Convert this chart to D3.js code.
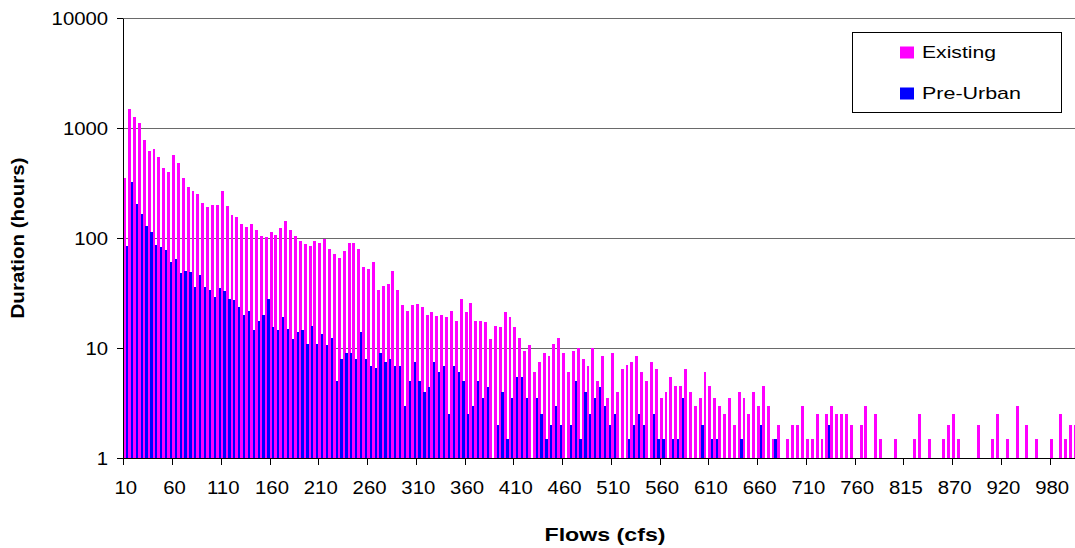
<!DOCTYPE html>
<html>
<head>
<meta charset="utf-8">
<script src="https://cdn.jsdelivr.net/npm/d3@7"></script>
<style>
  html, body { margin: 0; padding: 0; background: #fff; }
  svg { display: block; font-family: "Liberation Sans", Arial, sans-serif; }
</style>
</head>
<body>
<svg id="chart" width="1075" height="548"></svg>
<script>
// Flow bins (cfs) on the category axis
const categories = [
  10,15,20,25,30,35,40,45,50,55,
  60,65,70,75,80,85,90,95,100,105,
  110,115,120,125,130,135,140,145,150,155,
  160,165,170,175,180,185,190,195,200,205,
  210,215,220,225,230,235,240,245,250,255,
  260,265,270,275,280,285,290,295,300,305,
  310,315,320,325,330,335,340,345,350,355,
  360,365,370,375,380,385,390,395,400,405,
  410,415,420,425,430,435,440,445,450,455,
  460,465,470,475,480,485,490,495,500,505,
  510,515,520,525,530,535,540,545,550,555,
  560,565,570,575,580,585,590,595,600,605,
  610,615,620,625,630,635,640,645,650,655,
  660,665,670,675,680,685,690,695,700,705,
  710,715,720,725,730,735,740,745,750,755,
  760,765,770,775,780,785,790,795,800,805,
  815,820,825,830,835,840,845,850,855,860,
  870,875,880,885,890,895,900,905,910,915,
  920,925,930,935,940,950,955,960,970,975,
  980,985,990,995,1000,1005
];

// Duration (hours) at or above each flow, existing land use
const existing = [
  350,1500,1250,1100,780,620,650,540,430,400,
  570,480,350,290,265,250,210,190,200,200,
  265,195,163,156,135,127,135,117,105,103,
  114,107,123,143,118,104,94,88,85,94,
  90,98,79,72,66,76,90,90,79,54.5,
  52,60.5,34,36.6,38,50,33.7,24.6,21.7,24.6,
  25.1,23.6,20,21.2,19.5,20,19.1,21.7,17.6,27.9,
  21.2,25.7,17.6,17.6,17.2,12.1,15.8,15.5,21.2,19.1,
  15.5,12.3,9.4,10.7,6,7.5,9,8.5,10.9,12.3,
  9,6,9.4,10,7.9,6.9,10,5,8.5,3.5,
  9,4,6.5,7,7.5,8.5,6,5,7.5,6.5,
  3.5,4,5.5,4.5,4.5,6.5,4,3,3.5,6,
  4.5,3.5,3,2.5,3.5,2,4,3.5,2.5,4,
  3,4.5,3,1.5,2,null,1.5,2,2,3,
  1.5,1.5,2.5,1.5,2.5,3,2.5,2.5,2.5,2,
  null,2,3,null,2.5,1.5,null,null,1.5,null,
  null,null,1.5,2.5,null,1.5,null,null,1.5,2,
  2.5,1.5,null,null,null,2,null,null,1.5,2.5,
  null,1.5,null,3,null,2,null,1.5,null,null,
  1.5,null,2.5,1.5,2,2
];

// Duration (hours) at or above each flow, pre-urban land use
const preUrban = [
  85,320,205,166,129,114,87,82,78,60,
  64,48,50,49,36,46,36,34,29,35,
  33,28,27.5,23.8,20.1,21.9,14.7,17.7,20.1,28,
  15.6,14.7,19.1,14.9,12.1,14,14.6,10.9,15.8,10.9,
  13.4,10.7,12.3,5,7.9,9,9,7.9,14,7.9,
  6.9,6.6,9,7.5,7.9,6.9,6.9,3,5,7.5,
  5,4,4.4,7.5,6,6.9,2.5,6.9,6,5,
  2.5,3,5,3.5,4.4,null,2,4,1.5,3.5,
  5.5,5.5,3.5,null,3.5,2.5,1.5,2,3,2,
  null,2,5,1.5,4,2.5,3.5,4.4,3,2,
  2.5,null,null,1.5,2,2.5,2,null,2.5,1.5,
  1.5,null,1.5,1.5,3.5,null,null,null,2,null,
  1.5,1.5,null,null,null,null,1.5,null,null,null,
  2,null,null,1.5,null,null,null,null,null,null,
  null,null,null,null,2,null,null,null,null,null,
  null,null,null,null,null,null,null,null,null,null,
  null,null,null,null,null,null,null,null,null,null,
  null,null,null,null,null,null,null,null,null,null,
  null,null,null,null,null,null,null,null,null,null,
  null,null,null,null,null,null
];

const yTickValues = [1, 10, 100, 1000, 10000];
const xLabelEvery = 10;
const seriesNames = ["Existing", "Pre-Urban"];
const seriesValues = [existing, preUrban];
const seriesColors = ["#ff00ff", "#0000ff"];
// share of each category slot taken by each series' bar (start, width)
const barSlot = [[0.0, 0.6], [0.54, 0.46]];

// ---- layout ----
const W = 1075, H = 548;
const plotLeft = 123.3, plotTop = 18, plotBottom = 458, bandW = 4.876;

const svg = d3.select("#chart");
svg.append("rect").attr("width", W).attr("height", H).attr("fill", "#fff");

const idx = d3.range(categories.length);
const x = d3.scaleBand()
  .domain(idx)
  .range([plotLeft, plotLeft + bandW * categories.length])
  .paddingInner(0).paddingOuter(0);
const y = d3.scaleLog().domain([1, 10000]).range([plotBottom, plotTop]);

// horizontal gridlines
svg.append("g")
  .selectAll("line")
  .data(yTickValues.slice(1))
  .join("line")
  .attr("x1", plotLeft).attr("x2", W)
  .attr("y1", d => Math.round(y(d)) + 0.5)
  .attr("y2", d => Math.round(y(d)) + 0.5)
  .attr("stroke", "#6a6a6a").attr("stroke-width", 1);

// bars
seriesNames.forEach((name, s) => {
  const data = idx
    .map(i => ({ i, v: seriesValues[s][i] }))
    .filter(d => d.v != null && d.v > 0);
  const [off, frac] = barSlot[s];
  svg.append("g")
    .attr("shape-rendering", "crispEdges")
    .selectAll("rect")
    .data(data)
    .join("rect")
    .attr("x", d => x(d.i) + off * x.bandwidth())
    .attr("width", frac * x.bandwidth())
    .attr("y", d => y(d.v))
    .attr("height", d => y(1) - y(d.v))
    .attr("fill", seriesColors[s]);
});

// y axis
const yAxis = svg.append("g")
  .attr("transform", `translate(${Math.floor(plotLeft)},0)`)
  .call(d3.axisLeft(y).tickValues(yTickValues).tickFormat(d3.format("d"))
    .tickSize(6).tickSizeOuter(0));
yAxis.select(".domain").attr("stroke", "#000");
yAxis.selectAll(".tick line").attr("stroke", "#000");
yAxis.selectAll(".tick text")
  .attr("x", -13.5)
  .attr("dy", "0.35em")
  .attr("transform", "scale(1.1,1)")
  .attr("font-size", "18.5px")
  .attr("fill", "#000");

// x axis: labels centred on categories, ticks on category boundaries
const xTickIdx = idx.filter(i => i % xLabelEvery === 0);
const xAxis = svg.append("g")
  .attr("transform", `translate(0,${plotBottom})`)
  .call(d3.axisBottom(x).tickValues(xTickIdx).tickFormat(i => categories[i])
    .tickSize(0).tickSizeOuter(0));
xAxis.select(".domain").attr("stroke", "#000");
xAxis.selectAll(".tick text")
  .attr("y", 36).attr("dy", null)
  .attr("transform", "scale(1.1,1)")
  .attr("font-size", "18.5px")
  .attr("fill", "#000");
xAxis.append("g")
  .selectAll("line")
  .data(xTickIdx)
  .join("line")
  .attr("x1", i => Math.round(x(i)) + 0.5)
  .attr("x2", i => Math.round(x(i)) + 0.5)
  .attr("y1", 0).attr("y2", 7)
  .attr("stroke", "#000");

// axis titles
svg.append("text")
  .attr("x", 605).attr("y", 541)
  .attr("text-anchor", "middle")
  .attr("font-weight", "bold").attr("font-size", "19px")
  .attr("textLength", 121).attr("lengthAdjust", "spacingAndGlyphs")
  .text("Flows (cfs)");

svg.append("text")
  .attr("transform", "translate(24,238) rotate(-90)")
  .attr("text-anchor", "middle")
  .attr("font-weight", "bold").attr("font-size", "19px")
  .attr("textLength", 161).attr("lengthAdjust", "spacingAndGlyphs")
  .text("Duration (hours)");

// legend
const legend = svg.append("g");
legend.append("rect")
  .attr("x", 852.5).attr("y", 32.5).attr("width", 209).attr("height", 80)
  .attr("fill", "#fff").attr("stroke", "#000").attr("stroke-width", 1);
const legendRows = [
  { name: seriesNames[0], color: seriesColors[0], y: 57.5, len: 74 },
  { name: seriesNames[1], color: seriesColors[1], y: 98.5, len: 99 }
];
legendRows.forEach(r => {
  legend.append("rect")
    .attr("x", 900).attr("y", r.y - 11).attr("width", 14).attr("height", 12)
    .attr("fill", r.color);
  legend.append("text")
    .attr("x", 922).attr("y", r.y)
    .attr("font-size", "17px")
    .attr("textLength", r.len).attr("lengthAdjust", "spacingAndGlyphs")
    .text(r.name);
});
</script>
</body>
</html>
